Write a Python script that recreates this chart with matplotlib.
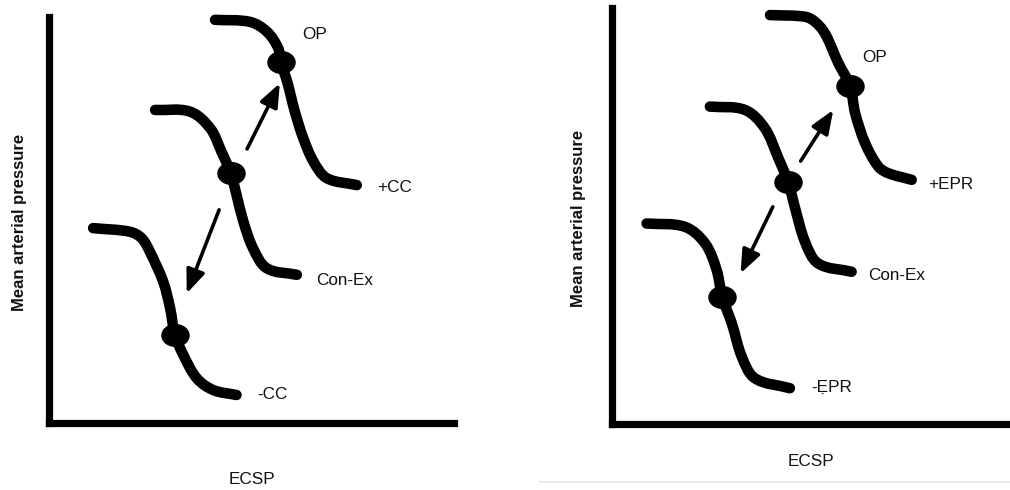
import numpy as np
import matplotlib
matplotlib.use("Agg")
import matplotlib.pyplot as plt
from matplotlib.path import Path
from matplotlib.patches import PathPatch
from matplotlib.lines import Line2D
from matplotlib.transforms import Affine2D

plt.rcParams['font.family'] = ['Liberation Sans', 'DejaVu Sans']

# Axis titles (schematic, arbitrary units 0-100 on both axes)
x_title = "ECSP"
y_title = "Mean arterial pressure"

# ---- Left panel: central command (CC) resetting ----
cc_names = ["+CC", "Con-Ex", "-CC"]

cc_plus_x = [41.0, 49.6, 53.8, 56.6, 57.2, 58.8, 60.7, 62.8, 65.3, 68.6, 76.0]
cc_plus_y = [99.3, 98.8, 96.4, 92.3, 89.0, 84.1, 76.7, 70.1, 64.4, 60.3, 58.6]

cc_con_x = [26.2, 34.8, 39.8, 42.6, 44.9, 46.3, 48.0, 50.4, 53.8, 61.2]
cc_con_y = [77.1, 76.7, 72.6, 66.8, 61.5, 56.2, 49.6, 43.0, 38.1, 36.5]

cc_minus_x = [10.9, 20.0, 22.9, 24.9, 28.2, 29.9, 31.1, 33.2, 36.5, 40.6, 46.3]
cc_minus_y = [48.0, 47.1, 45.5, 42.2, 34.8, 28.3, 21.7, 16.7, 11.0, 8.1, 6.9]

# operating points on +CC, Con-Ex, -CC
cc_op_x = [57.2, 44.9, 31.1]
cc_op_y = [89.0, 61.5, 21.7]

# ---- Right panel: exercise pressor reflex (EPR) resetting ----
epr_names = ["+EPR", "Con-Ex", "-\u1EB8PR"]

epr_plus_x = [39.7, 48.5, 51.0, 53.5, 56.9, 59.8, 61.1, 63.6, 66.9, 69.4, 75.3]
epr_plus_y = [98.3, 97.9, 96.7, 93.9, 86.7, 81.3, 74.7, 67.5, 61.9, 60.3, 58.7]

epr_con_x = [24.6, 33.4, 38.4, 41.8, 44.3, 46.0, 48.5, 51.8, 60.2]
epr_con_y = [76.3, 75.5, 71.1, 63.9, 58.1, 51.9, 43.8, 38.6, 36.6]

epr_minus_x = [8.7, 18.3, 23.4, 26.3, 27.7, 30.1, 32.6, 35.9, 44.7]
epr_minus_y = [48.2, 47.4, 43.4, 37.0, 30.5, 24.2, 16.2, 11.0, 8.6]

epr_op_x = [59.8, 44.3, 27.7]
epr_op_y = [81.3, 58.1, 30.5]


def smooth_path(xs, ys):
    """Smooth cubic Bezier path through the given points (G1 tangents)."""
    pts = np.column_stack([xs, ys]).astype(float)
    n = len(pts)
    tang = np.empty_like(pts)
    tang[0] = pts[1] - pts[0]
    tang[-1] = pts[-1] - pts[-2]
    tang[1:-1] = pts[2:] - pts[:-2]
    tang /= np.linalg.norm(tang, axis=1, keepdims=True)
    verts = [pts[0]]
    codes = [Path.MOVETO]
    for i in range(n - 1):
        seg = np.linalg.norm(pts[i + 1] - pts[i]) / 3.0
        verts += [pts[i] + tang[i] * seg, pts[i + 1] - tang[i + 1] * seg, pts[i + 1]]
        codes += [Path.CURVE4] * 3
    return Path(verts, codes)


dot_marker = Path.unit_circle().transformed(Affine2D().scale(1.25, 1.0))
TEXT_COLOR = "#111111"


def draw_panel(ax, curves, op_x, op_y, names, label_pos, arrows,
               xlabel_xy, ylabel_xy):
    for xs, ys in curves:
        ax.add_patch(PathPatch(smooth_path(xs, ys), facecolor="none",
                               edgecolor="black", lw=7.6, capstyle="round",
                               joinstyle="round", clip_on=False, zorder=2))
    ax.plot(op_x, op_y, linestyle="none", marker=dot_marker, markersize=19.5,
            color="black", clip_on=False, zorder=3)
    for (tail, tip) in arrows:
        ax.annotate("", xy=tip, xytext=tail,
                    arrowprops=dict(arrowstyle="-|>,head_length=0.95,head_width=0.38",
                                    lw=2.6, color="black", shrinkA=0, shrinkB=0,
                                    mutation_scale=15),
                    annotation_clip=False, zorder=3)
    ax.text(*label_pos["OP"], "OP", ha="center", va="center",
            fontsize=12.3, color=TEXT_COLOR)
    for name, pos in zip(names, label_pos["curves"]):
        ax.text(*pos, name, ha="center", va="center", fontsize=12.3,
                color=TEXT_COLOR)

    ax.set_xlim(0, 100)
    ax.set_ylim(0, 100)
    ax.set_xticks([])
    ax.set_yticks([])
    for side in ("top", "right"):
        ax.spines[side].set_visible(False)
    for side in ("left", "bottom"):
        ax.spines[side].set_linewidth(5.2)
        ax.spines[side].set_color("black")
        ax.spines[side].set_capstyle("projecting")
    ax.patch.set_alpha(0)

    ax.set_xlabel(x_title, fontsize=12.3, color=TEXT_COLOR, va="center")
    ax.xaxis.set_label_coords(*xlabel_xy)
    ax.set_ylabel(y_title, fontsize=12, fontweight="bold", color=TEXT_COLOR,
                  va="center")
    ax.yaxis.set_label_coords(*ylabel_xy)


fig = plt.figure(figsize=(10.1, 4.9), dpi=100)
fig.patch.set_facecolor("white")

ax1 = fig.add_axes([49 / 1010, 67 / 490, 405 / 1010, 406 / 490])
draw_panel(
    ax1,
    [(cc_plus_x, cc_plus_y), (cc_con_x, cc_con_y), (cc_minus_x, cc_minus_y)],
    cc_op_x, cc_op_y, cc_names,
    {"OP": (65.7, 95.6), "curves": [(85.4, 58.1), (73.1, 35.2), (55.1, 6.9)]},
    [((48.9, 67.5), (57.0, 83.7)), ((42.0, 52.5), (34.0, 31.9))],
    (0.501, -0.140), (-0.074, 0.493),
)

ax2 = fig.add_axes([612 / 1010, 66 / 490, 398 / 1010, 416 / 490])
draw_panel(
    ax2,
    [(epr_plus_x, epr_plus_y), (epr_con_x, epr_con_y), (epr_minus_x, epr_minus_y)],
    epr_op_x, epr_op_y, epr_names,
    {"OP": (66.1, 88.0), "curves": [(85.2, 57.5), (71.6, 35.8), (55.3, 8.9)]},
    [((47.4, 63.2), (55.6, 75.5)), ((40.4, 52.2), (32.3, 36.2))],
    (0.500, -0.091), (-0.085, 0.495),
)

# faint separator rule under the right panel
fig.add_artist(Line2D([539 / 1010, 1.0], [1 - 482 / 490] * 2,
                      transform=fig.transFigure, color="#e9e9e9", lw=1.2))

fig.savefig("out.png", dpi=100, facecolor="white")
